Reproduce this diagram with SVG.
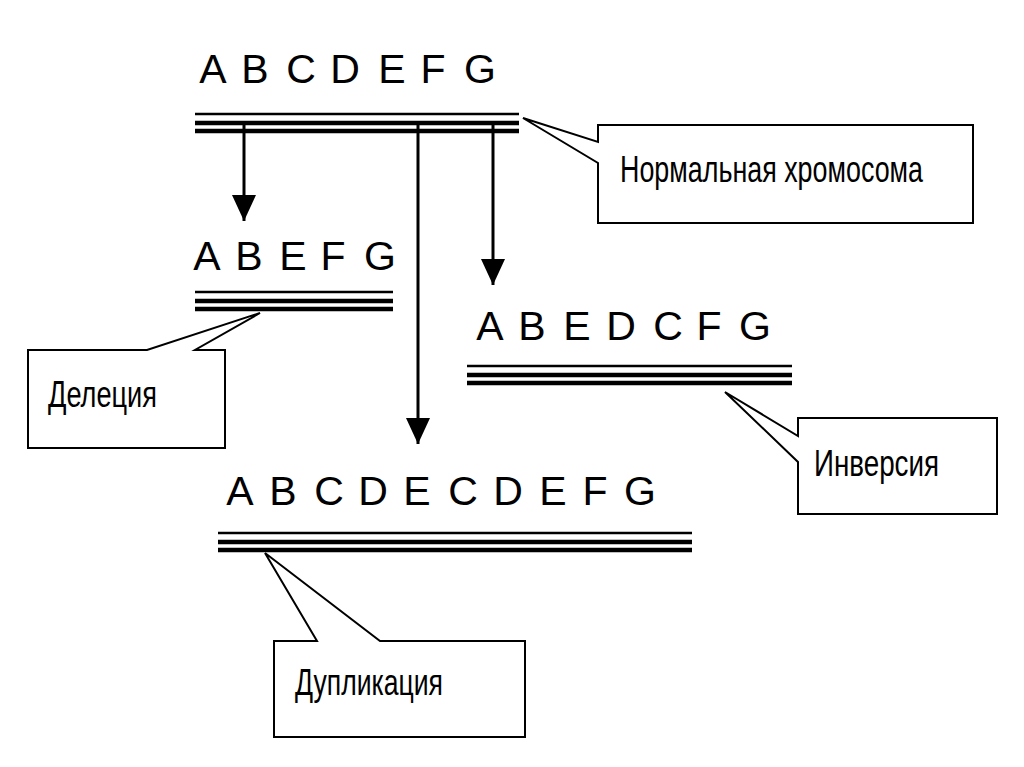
<svg xmlns="http://www.w3.org/2000/svg" width="1024" height="767" viewBox="0 0 1024 767">
<defs>
<marker id="ah" markerUnits="userSpaceOnUse" markerWidth="26" markerHeight="30" refX="26" refY="12" orient="auto">
<path d="M0,0 L26,12 L0,24 Z" fill="#000"/>
</marker>
<style>
.l{font-family:"Liberation Sans",Arial,sans-serif;font-size:41px;fill:#000;text-anchor:middle}
.t{font-family:"Liberation Sans",Arial,sans-serif;font-size:36px;fill:#000}
.c{fill:#fff;stroke:#000;stroke-width:2}
.thin{stroke:#000;stroke-width:2.5}
.thk{stroke:#000;stroke-width:4.5}
.ar{stroke:#000;stroke-width:3;fill:none;marker-end:url(#ah)}
</style>
</defs>
<rect width="1024" height="767" fill="#fff"/>

<g id="normal">
<text class="l" x="213" y="83">A</text><text class="l" x="255" y="83">B</text><text class="l" x="301" y="83">C</text><text class="l" x="345" y="83">D</text><text class="l" x="392" y="83">E</text><text class="l" x="433" y="83">F</text><text class="l" x="480" y="83">G</text>
<line class="thin" x1="195" y1="114" x2="519" y2="114"/>
<line class="thk" x1="195" y1="123" x2="519" y2="123"/>
<line class="thk" x1="195" y1="131" x2="519" y2="131"/>
</g>

<g id="connectors">
<line class="ar" x1="244" y1="124" x2="244" y2="221"/>
<line class="ar" x1="418" y1="124" x2="418" y2="444"/>
<line class="ar" x1="493" y1="124" x2="493" y2="285"/>
</g>

<g id="normal-label">
<path class="c" d="M598,125 L973,125 L973,223 L598,223 L598,163 L523,118 L598,142 Z"/>
<text class="t" x="620" y="182" textLength="303" lengthAdjust="spacingAndGlyphs">Нормальная хромосома</text>
</g>

<g id="deletion">
<text class="l" x="207" y="270">A</text><text class="l" x="249" y="270">B</text><text class="l" x="293" y="270">E</text><text class="l" x="333" y="270">F</text><text class="l" x="380" y="270">G</text>
<line class="thin" x1="195" y1="292" x2="393" y2="292"/>
<line class="thk" x1="195" y1="301" x2="393" y2="301"/>
<line class="thk" x1="195" y1="309" x2="393" y2="309"/>
</g>
<g id="deletion-label">
<path class="c" d="M28,350 L147,350 L260,313 L195,350 L225,350 L225,448 L28,448 Z"/>
<text class="t" x="48" y="407" textLength="109" lengthAdjust="spacingAndGlyphs">Делеция</text>
</g>

<g id="inversion">
<text class="l" x="490" y="340">A</text><text class="l" x="532" y="340">B</text><text class="l" x="577" y="340">E</text><text class="l" x="621" y="340">D</text><text class="l" x="668" y="340">C</text><text class="l" x="709" y="340">F</text><text class="l" x="755" y="340">G</text>
<line class="thin" x1="467" y1="366" x2="792" y2="366"/>
<line class="thk" x1="467" y1="375" x2="792" y2="375"/>
<line class="thk" x1="467" y1="383" x2="792" y2="383"/>
</g>
<g id="inversion-label">
<path class="c" d="M798,418 L997,418 L997,514 L798,514 L798,462 L725,392 L798,436 Z"/>
<text class="t" x="814" y="476" textLength="125" lengthAdjust="spacingAndGlyphs">Инверсия</text>
</g>

<g id="duplication">
<text class="l" x="240" y="505">A</text><text class="l" x="283" y="505">B</text><text class="l" x="329" y="505">C</text><text class="l" x="373" y="505">D</text><text class="l" x="417" y="505">E</text><text class="l" x="463" y="505">C</text><text class="l" x="508" y="505">D</text><text class="l" x="553" y="505">E</text><text class="l" x="595" y="505">F</text><text class="l" x="640" y="505">G</text>
<line class="thin" x1="218" y1="533" x2="692" y2="533"/>
<line class="thk" x1="218" y1="542" x2="692" y2="542"/>
<line class="thk" x1="218" y1="550" x2="692" y2="550"/>
</g>
<g id="duplication-label">
<path class="c" d="M274,641 L317,641 L265,553 L380,641 L525,641 L525,737 L274,737 Z"/>
<text class="t" x="295" y="695" textLength="148" lengthAdjust="spacingAndGlyphs">Дупликация</text>
</g>
</svg>
